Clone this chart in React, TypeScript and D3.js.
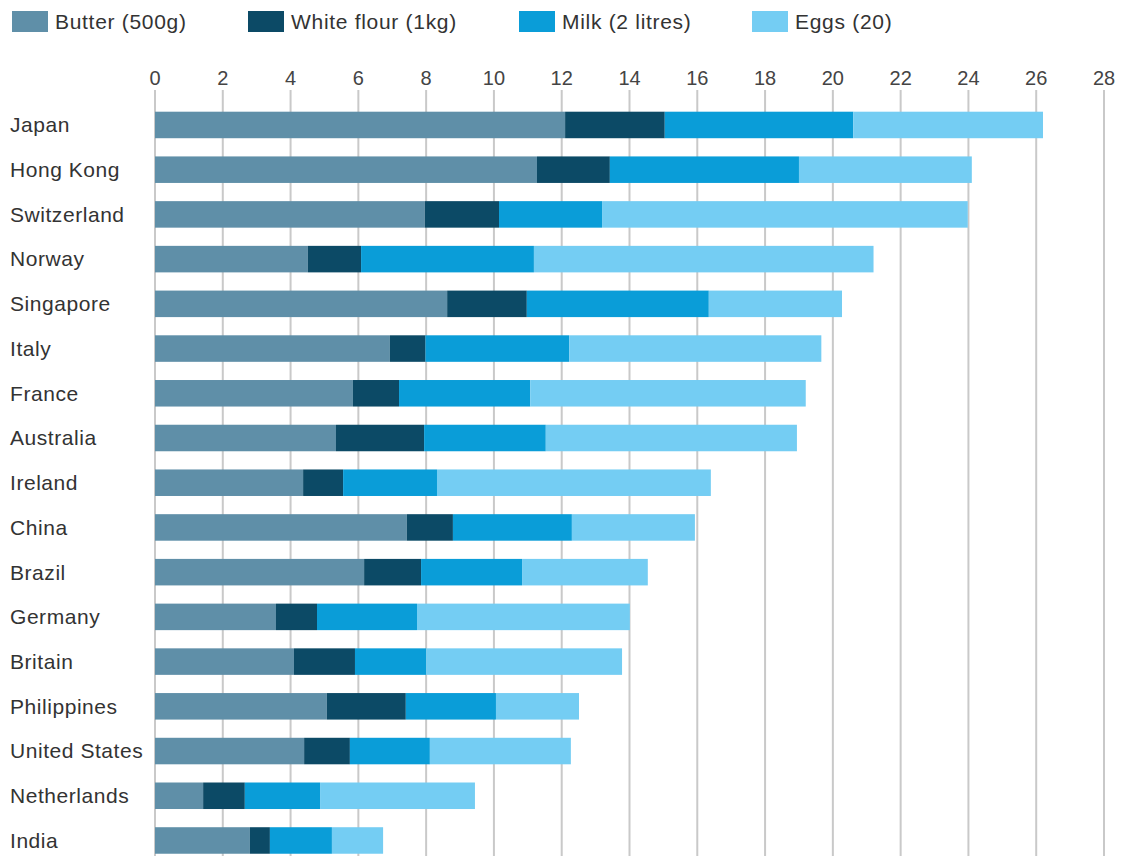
import React from "react";
import * as d3 from "d3";

// Cost of a basket of baking ingredients, $
const countries = [
  "Japan", "Hong Kong", "Switzerland", "Norway", "Singapore", "Italy", "France",
  "Australia", "Ireland", "China", "Brazil", "Germany", "Britain", "Philippines",
  "United States", "Netherlands", "India",
];
const butter = [12.1, 11.27, 7.96, 4.51, 8.62, 6.93, 5.84, 5.34, 4.37, 7.43, 6.17, 3.57, 4.1, 5.07, 4.4, 1.42, 2.8];
const flour = [2.94, 2.15, 2.19, 1.57, 2.35, 1.05, 1.36, 2.6, 1.18, 1.36, 1.68, 1.21, 1.8, 2.33, 1.35, 1.23, 0.59];
const milk = [5.56, 5.58, 3.04, 5.1, 5.37, 4.24, 3.87, 3.59, 2.77, 3.51, 2.98, 2.95, 2.1, 2.66, 2.36, 2.22, 1.83];
const eggs = [5.6, 5.1, 10.79, 10.02, 3.93, 7.44, 8.13, 7.41, 8.08, 3.63, 3.71, 6.28, 5.78, 2.45, 4.16, 4.57, 1.51];

const seriesNames = ["Butter (500g)", "White flour (1kg)", "Milk (2 litres)", "Eggs (20)"];
const seriesColors = ["#5f8fa8", "#0c4a66", "#0a9dd8", "#74cdf3"];
const xTicks = d3.range(0, 29, 2);

const W = 1125;
const H = 856;
const FONT = "'Liberation Sans', Arial, sans-serif";

export default function App() {
  const x = d3.scaleLinear().domain([0, 28]).range([155, 1104]);
  const step = 44.72;
  const y = d3
    .scaleBand<string>()
    .domain(countries)
    .range([102.6, 102.6 + countries.length * step])
    .paddingInner(0.407)
    .paddingOuter(0.2035);

  const rows = countries.map((c, i) => ({
    country: c,
    butter: butter[i],
    flour: flour[i],
    milk: milk[i],
    eggs: eggs[i],
  }));
  const stack = d3.stack<any>().keys(["butter", "flour", "milk", "eggs"]);
  const layers = stack(rows);

  const legendX = [12, 248, 519, 752];

  return (
    <div style={{ position: "absolute", left: 0, top: 0 }}>
      <svg width={W} height={H} style={{ display: "block", background: "#fff" }}>
        {/* legend */}
        {seriesNames.map((name, i) => (
          <g key={name}>
            <rect x={legendX[i]} y={11} width={36} height={21} fill={seriesColors[i]} />
            <text
              x={legendX[i] + 43}
              y={29}
              fontFamily={FONT}
              fontSize={21}
              letterSpacing={0.7}
              fill="#333"
            >
              {name}
            </text>
          </g>
        ))}

        {/* vertical gridlines and tick labels */}
        {xTicks.map((t) => (
          <g key={t}>
            <line x1={x(t)} x2={x(t)} y1={90} y2={H} stroke="#c9c9c9" strokeWidth={2} />
            <text
              x={x(t)}
              y={85}
              textAnchor="middle"
              fontFamily={FONT}
              fontSize={20}
              fill="#444"
            >
              {t}
            </text>
          </g>
        ))}

        {/* stacked bars */}
        {layers.map((layer, li) => (
          <g key={layer.key} fill={seriesColors[li]}>
            {layer.map((d, i) => (
              <rect
                key={countries[i]}
                x={x(d[0])}
                y={y(countries[i])}
                width={x(d[1]) - x(d[0])}
                height={y.bandwidth()}
              />
            ))}
          </g>
        ))}

        {/* country labels */}
        {countries.map((c) => (
          <text
            key={c}
            x={10}
            y={(y(c) as number) + y.bandwidth() / 2}
            dy="0.35em"
            fontFamily={FONT}
            fontSize={21}
            letterSpacing={0.55}
            fill="#333"
          >
            {c}
          </text>
        ))}
      </svg>
    </div>
  );
}
